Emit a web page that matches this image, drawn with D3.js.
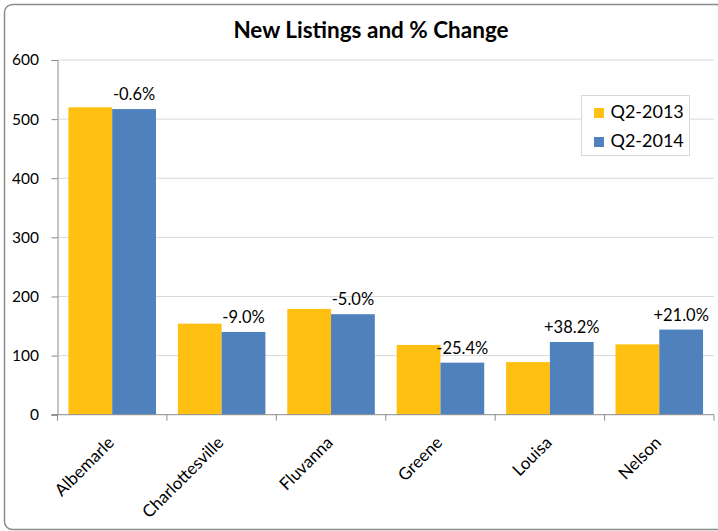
<!DOCTYPE html>
<html>
<head>
<meta charset="utf-8">
<script src="https://cdn.jsdelivr.net/npm/d3@7"></script>
<style>
  body { margin: 0; background: #fff; }
  text { font-family: Lato, "Noto Sans", sans-serif; fill: #000; }
</style>
</head>
<body>
<div id="chart"></div>
<script>
// chart data
let counties = ["Albemarle", "Charlottesville", "Fluvanna", "Greene", "Louisa", "Nelson"]
let series = ["Q2-2013", "Q2-2014"]
let q2013 = [520, 154, 179, 118, 89, 119]
let q2014 = [517, 140, 170, 88, 123, 144]
let changeLabels = ["-0.6%", "-9.0%", "-5.0%", "-25.4%", "+38.2%", "+21.0%"]
let yTicks = [0, 100, 200, 300, 400, 500, 600]

let colors = { "Q2-2013": "#FFC012", "Q2-2014": "#4F81BD" }

let W = 718, H = 531
let plot = { left: 57.5, right: 714, top: 60, bottom: 414.7 }

let svg = d3.select("#chart")
    .append("svg")
    .attr("width", W)
    .attr("height", H)

// outer border
svg.append("rect")
    .attr("x", 4.5)
    .attr("y", 4.5)
    .attr("width", 720)
    .attr("height", 525)
    .attr("rx", 8)
    .attr("fill", "#fff")
    .attr("stroke", "#8C8C8C")
    .attr("stroke-width", 1.5)

let x0 = d3.scaleBand()
    .domain(counties)
    .range([plot.left, plot.right])

let gap = x0.bandwidth() * 0.1
let x1 = d3.scaleBand()
    .domain(series)
    .range([gap, x0.bandwidth() - gap])

let y = d3.scaleLinear()
    .domain([0, 600])
    .range([plot.bottom, plot.top])

// gridlines
svg.append("g")
    .selectAll("line")
    .data(yTicks.filter(d => d > 0))
    .enter()
    .append("line")
    .attr("x1", plot.left)
    .attr("x2", plot.right)
    .attr("y1", d => y(d))
    .attr("y2", d => y(d))
    .attr("stroke", "#D9D9D9")
    .attr("stroke-width", 1)

// y axis
let yAxis = svg.append("g")
    .attr("transform", "translate(" + plot.left + ",0)")
    .call(d3.axisLeft(y).tickValues(yTicks).tickSize(6).tickPadding(12.5))
yAxis.select(".domain").attr("stroke", "#8C8C8C")
yAxis.selectAll(".tick line").attr("stroke", "#8C8C8C")
yAxis.selectAll(".tick text")
    .style("font-size", "15.5px")
    .attr("font-family", null)

// bars
let rows = counties.map((c, i) => ({ county: c, values: [q2013[i], q2014[i]], label: changeLabels[i] }))

let groups = svg.append("g")
    .selectAll("g")
    .data(rows)
    .enter()
    .append("g")
    .attr("transform", d => "translate(" + x0(d.county) + ",0)")

groups.selectAll("rect")
    .data(d => series.map((s, j) => ({ key: s, value: d.values[j] })))
    .enter()
    .append("rect")
    .attr("x", d => x1(d.key))
    .attr("y", d => y(d.value))
    .attr("width", x1.bandwidth())
    .attr("height", d => plot.bottom - y(d.value))
    .attr("fill", d => colors[d.key])

// % change labels above the 2014 bar
groups.append("text")
    .attr("x", x1("Q2-2014") + x1.bandwidth() / 2)
    .attr("y", d => y(d.values[1]) - 9)
    .attr("text-anchor", "middle")
    .style("font-size", "16.5px")
    .text(d => d.label)

// x axis
let xAxis = svg.append("g")
    .attr("transform", "translate(0," + plot.bottom + ")")
xAxis.append("line")
    .attr("x1", plot.left - 6)
    .attr("x2", plot.right)
    .attr("stroke", "#8C8C8C")
xAxis.selectAll(".tk")
    .data(counties.concat(["end"]))
    .enter()
    .append("line")
    .attr("class", "tk")
    .attr("x1", (d, i) => plot.left + i * x0.bandwidth())
    .attr("x2", (d, i) => plot.left + i * x0.bandwidth())
    .attr("y1", 0)
    .attr("y2", 6)
    .attr("stroke", "#8C8C8C")

xAxis.selectAll(".lbl")
    .data(counties)
    .enter()
    .append("text")
    .attr("class", "lbl")
    .attr("text-anchor", "end")
    .attr("transform", d => "translate(" + (x0(d) + x0.bandwidth() / 2 + 3) + ",29) rotate(-45)")
    .style("font-size", "17px")
    .text(d => d)

// title
svg.append("text")
    .attr("x", 371)
    .attr("y", 38)
    .attr("text-anchor", "middle")
    .style("font-size", "22.5px")
    .style("font-weight", "bold")
    .text("New Listings and % Change")

// legend
let legend = svg.append("g")
    .attr("transform", "translate(581.5,95.5)")
legend.append("rect")
    .attr("width", 108)
    .attr("height", 60)
    .attr("fill", "#fff")
    .attr("stroke", "#D9D9D9")

let items = legend.selectAll(".item")
    .data(series)
    .enter()
    .append("g")
    .attr("class", "item")
    .attr("transform", (d, i) => "translate(0," + (i * 29) + ")")
items.append("rect")
    .attr("x", 12.5)
    .attr("y", 12.5)
    .attr("width", 10)
    .attr("height", 10)
    .attr("fill", d => colors[d])
items.append("text")
    .attr("x", 29)
    .attr("y", 22.5)
    .style("font-size", "18px")
    .text(d => d)
</script>
</body>
</html>
